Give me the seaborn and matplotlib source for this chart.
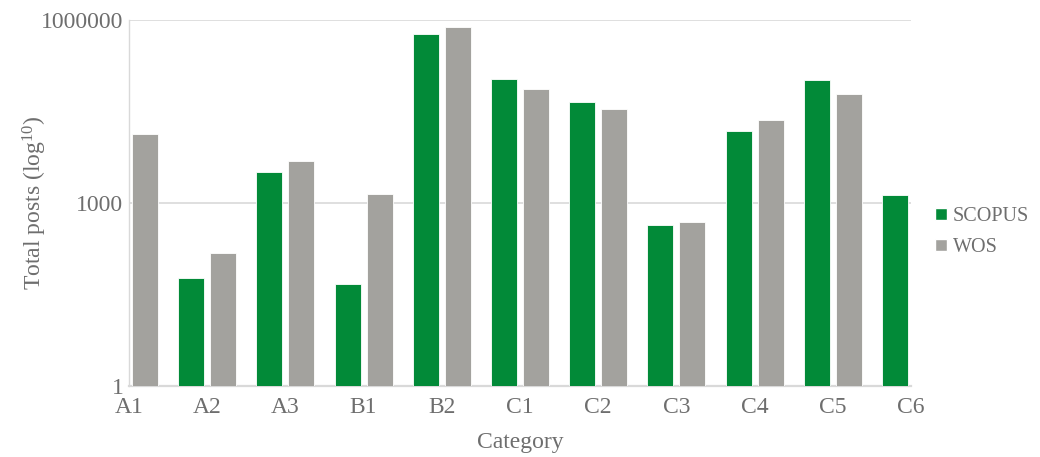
import numpy as np
import pandas as pd
import matplotlib
matplotlib.use("Agg")
import matplotlib.pyplot as plt
from matplotlib.ticker import FixedLocator, FixedFormatter
from matplotlib.patches import Patch
import seaborn as sns

# Data (log scale)
categories = ["A1", "A2", "A3", "B1", "B2", "C1", "C2", "C3", "C4", "C5", "C6"]
scopus = [np.nan, 58, 3190, 46, 596000, 106000, 45500, 435, 15200, 103500, 1370]
wos = [13600, 151, 4900, 1390, 768000, 73600, 34500, 493, 23100, 60000, np.nan]

df = pd.DataFrame({
    "Category": categories * 2,
    "Source": ["SCOPUS"] * len(categories) + ["WOS"] * len(categories),
    "Posts": scopus + wos,
})

green = "#028A38"
grey = "#A3A29E"
text_col = "#6E6E6E"
grid_col = "#D9D9D9"

sns.set_style("white")
plt.rcParams["font.family"] = ["Liberation Serif", "DejaVu Serif"]
plt.rcParams["mathtext.default"] = "regular"

fig = plt.figure(figsize=(10.4, 4.57), dpi=100)
ax = fig.add_axes([129 / 1040, 1 - 385.7 / 457, (911 - 129) / 1040, (385.7 - 20) / 457])

sns.barplot(data=df, x="Category", y="Posts", hue="Source",
            palette={"SCOPUS": green, "WOS": grey}, saturation=1,
            width=0.82, gap=0.19, edgecolor="white", linewidth=0.6,
            legend=False, ax=ax, zorder=3)

ax.set_yscale("log")
ax.set_ylim(1, 1e6)
ax.set_xlim(0, len(categories) - 1)
ax.yaxis.set_major_locator(FixedLocator([1, 1000, 1000000]))
ax.yaxis.set_major_formatter(FixedFormatter(["1", "1000", "1000000"]))
ax.yaxis.set_minor_locator(FixedLocator([]))

ax.grid(axis="y", color=grid_col, linewidth=1.2, zorder=0)
ax.grid(axis="x", visible=False)
for side in ["top", "right"]:
    ax.spines[side].set_visible(False)
ax.spines["left"].set_color(grid_col)
ax.spines["bottom"].set_color(grid_col)
ax.spines["bottom"].set_linewidth(1.6)
ax.spines["left"].set_linewidth(1.0)

ax.tick_params(axis="both", length=0, labelsize=17, colors=text_col)
ax.tick_params(axis="y", pad=4)
ax.tick_params(axis="x", pad=8)

ax.set_xlabel("Category", fontsize=17, color=text_col, labelpad=10)
ax.set_ylabel("Total posts (log$^{10}$)", fontsize=17, color=text_col)
ax.yaxis.set_label_coords(-0.102, 0.5)

handles = [Patch(facecolor=green, label="SCOPUS"), Patch(facecolor=grey, label="WOS")]
leg = ax.legend(handles=handles, loc="center left", bbox_to_anchor=(1.007, 0.42),
                frameon=False, fontsize=14.5, handlelength=0.6, handleheight=0.6,
                handletextpad=0.3, labelspacing=0.6)
for t in leg.get_texts():
    t.set_color(text_col)

fig.savefig("out.png", dpi=100)
